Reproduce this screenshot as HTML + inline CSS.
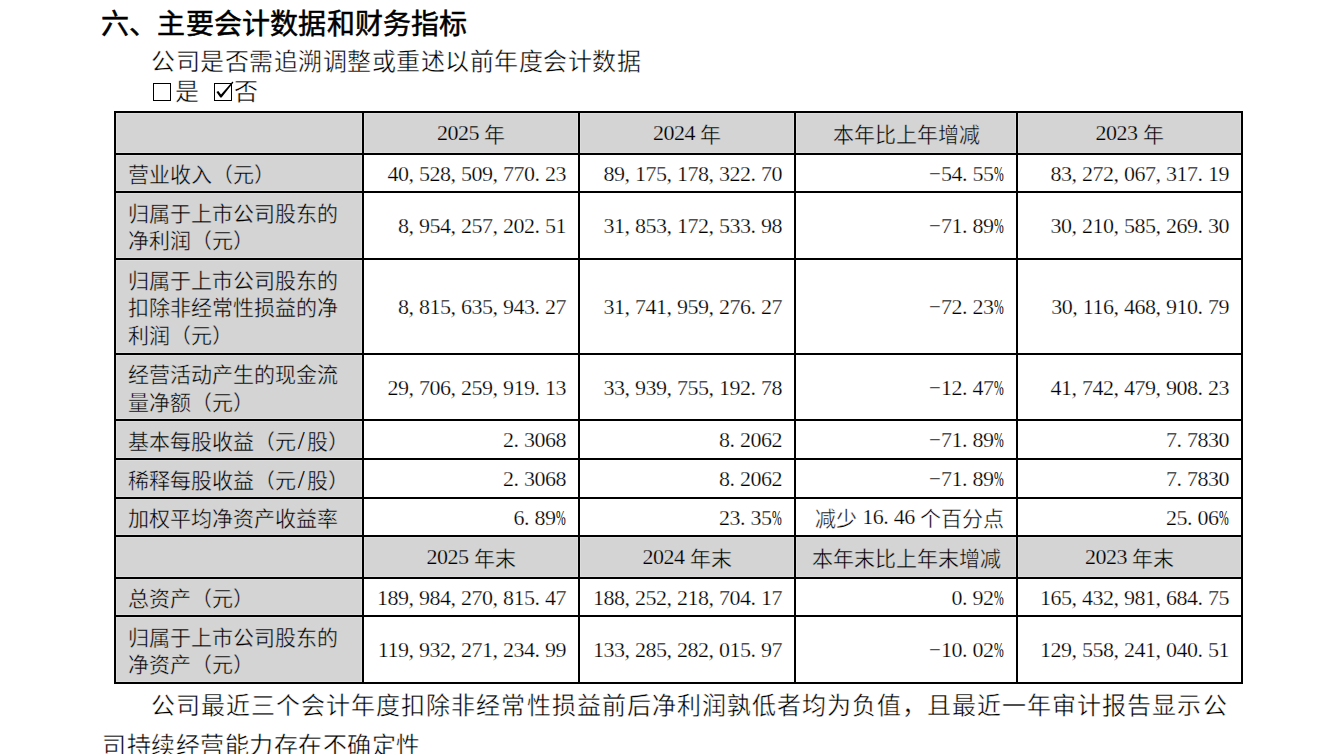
<!DOCTYPE html>
<html lang="zh-CN"><head><meta charset="utf-8"><title>主要会计数据和财务指标</title>
<style>
html,body{margin:0;padding:0;background:#fff;}
body{width:1330px;height:754px;overflow:hidden;position:relative;font-family:"Liberation Serif",serif;color:#000;-webkit-text-stroke:0.4px #fff;}
.t{position:absolute;white-space:nowrap;line-height:1;}
.c{position:absolute;box-sizing:border-box;display:flex;align-items:center;font-size:21px;line-height:27.5px;white-space:nowrap;padding-top:5px;}
.g{background:#d4d4d4;border:1px solid #dcdcdc;-webkit-text-stroke-color:#d4d4d4;}
.sl{text-align:center;font-size:25px;-webkit-text-stroke-width:0;}
.l{padding-left:11px;}
.r{justify-content:flex-end;padding-right:12px;}
.h{justify-content:center;}
.d{font-size:22px;letter-spacing:-0.5px;position:relative;top:-2px;-webkit-text-stroke-width:0.25px;}
i{font-style:normal;display:inline-block;width:10.5px;}
u{text-decoration:none;display:inline-block;width:10.5px;transform:scaleX(0.53);transform-origin:0 0;-webkit-text-stroke-width:0;}
s{text-decoration:none;display:inline-block;width:12.5px;margin-left:-2px;transform:scaleX(0.95);transform-origin:0 0;}
.ln{position:absolute;background:#000;}
.bx{position:absolute;width:18px;height:18px;box-sizing:border-box;border:1px solid #000;}
.j{text-align:justify;text-align-last:justify;}
</style></head><body>
<div class="t" style="left:101px;top:11px;font-size:28px;letter-spacing:0.2px;-webkit-text-stroke:0.5px #000;">六、主要会计数据和财务指标</div>
<div class="t" style="left:151px;top:50px;font-size:24px;letter-spacing:0.5px;">公司是否需追溯调整或重述以前年度会计数据</div>
<div class="bx" style="left:153px;top:83px;"></div>
<div class="t" style="left:175px;top:80px;font-size:24px;letter-spacing:0.5px;">是</div>
<div class="bx" style="left:214px;top:83px;"><svg width="22" height="22" viewBox="0 0 22 22" style="position:absolute;left:0;top:-3px;overflow:visible"><path d="M1.4 11.0 L3.3 9.9 L6.0 13.4 L17.5 0.6 L18.4 1.4 L6.6 16.6 L5.3 16.6 Z" fill="#000"/></svg></div>
<div class="t" style="left:234px;top:80px;font-size:24px;letter-spacing:0.5px;">否</div>
<div class="c g l" style="left:116px;top:113px;width:246px;height:40px"><div></div></div>
<div class="c g h" style="left:364px;top:113px;width:214px;height:40px"><div><span class="d">2025</span> 年</div></div>
<div class="c g h" style="left:580px;top:113px;width:214px;height:40px"><div><span class="d">2024</span> 年</div></div>
<div class="c g h" style="left:796px;top:113px;width:220px;height:40px"><div>本年比上年增减</div></div>
<div class="c g h" style="left:1018px;top:113px;width:223px;height:40px"><div><span class="d">2023</span> 年</div></div>
<div class="c g l" style="left:116px;top:155px;width:246px;height:36px"><div>营业收入（元）</div></div>
<div class="c r" style="left:364px;top:155px;width:214px;height:36px"><div class="d">40<i>,</i>528<i>,</i>509<i>,</i>770<i>.</i>23</div></div>
<div class="c r" style="left:580px;top:155px;width:214px;height:36px"><div class="d">89<i>,</i>175<i>,</i>178<i>,</i>322<i>.</i>70</div></div>
<div class="c r" style="left:796px;top:155px;width:220px;height:36px"><div class="d"><s>&#8722;</s>54<i>.</i>55<u>%</u></div></div>
<div class="c r" style="left:1018px;top:155px;width:223px;height:36px"><div class="d">83<i>,</i>272<i>,</i>067<i>,</i>317<i>.</i>19</div></div>
<div class="c g l" style="left:116px;top:193px;width:246px;height:65px"><div>归属于上市公司股东的<br>净利润（元）</div></div>
<div class="c r" style="left:364px;top:193px;width:214px;height:65px"><div class="d">8<i>,</i>954<i>,</i>257<i>,</i>202<i>.</i>51</div></div>
<div class="c r" style="left:580px;top:193px;width:214px;height:65px"><div class="d">31<i>,</i>853<i>,</i>172<i>,</i>533<i>.</i>98</div></div>
<div class="c r" style="left:796px;top:193px;width:220px;height:65px"><div class="d"><s>&#8722;</s>71<i>.</i>89<u>%</u></div></div>
<div class="c r" style="left:1018px;top:193px;width:223px;height:65px"><div class="d">30<i>,</i>210<i>,</i>585<i>,</i>269<i>.</i>30</div></div>
<div class="c g l" style="left:116px;top:260px;width:246px;height:93px"><div>归属于上市公司股东的<br>扣除非经常性损益的净<br>利润（元）</div></div>
<div class="c r" style="left:364px;top:260px;width:214px;height:93px"><div class="d">8<i>,</i>815<i>,</i>635<i>,</i>943<i>.</i>27</div></div>
<div class="c r" style="left:580px;top:260px;width:214px;height:93px"><div class="d">31<i>,</i>741<i>,</i>959<i>,</i>276<i>.</i>27</div></div>
<div class="c r" style="left:796px;top:260px;width:220px;height:93px"><div class="d"><s>&#8722;</s>72<i>.</i>23<u>%</u></div></div>
<div class="c r" style="left:1018px;top:260px;width:223px;height:93px"><div class="d">30<i>,</i>116<i>,</i>468<i>,</i>910<i>.</i>79</div></div>
<div class="c g l" style="left:116px;top:355px;width:246px;height:64px"><div>经营活动产生的现金流<br>量净额（元）</div></div>
<div class="c r" style="left:364px;top:355px;width:214px;height:64px"><div class="d">29<i>,</i>706<i>,</i>259<i>,</i>919<i>.</i>13</div></div>
<div class="c r" style="left:580px;top:355px;width:214px;height:64px"><div class="d">33<i>,</i>939<i>,</i>755<i>,</i>192<i>.</i>78</div></div>
<div class="c r" style="left:796px;top:355px;width:220px;height:64px"><div class="d"><s>&#8722;</s>12<i>.</i>47<u>%</u></div></div>
<div class="c r" style="left:1018px;top:355px;width:223px;height:64px"><div class="d">41<i>,</i>742<i>,</i>479<i>,</i>908<i>.</i>23</div></div>
<div class="c g l" style="left:116px;top:421px;width:246px;height:37px"><div>基本每股收益（元<i class="sl">/</i>股）</div></div>
<div class="c r" style="left:364px;top:421px;width:214px;height:37px"><div class="d">2<i>.</i>3068</div></div>
<div class="c r" style="left:580px;top:421px;width:214px;height:37px"><div class="d">8<i>.</i>2062</div></div>
<div class="c r" style="left:796px;top:421px;width:220px;height:37px"><div class="d"><s>&#8722;</s>71<i>.</i>89<u>%</u></div></div>
<div class="c r" style="left:1018px;top:421px;width:223px;height:37px"><div class="d">7<i>.</i>7830</div></div>
<div class="c g l" style="left:116px;top:460px;width:246px;height:37px"><div>稀释每股收益（元<i class="sl">/</i>股）</div></div>
<div class="c r" style="left:364px;top:460px;width:214px;height:37px"><div class="d">2<i>.</i>3068</div></div>
<div class="c r" style="left:580px;top:460px;width:214px;height:37px"><div class="d">8<i>.</i>2062</div></div>
<div class="c r" style="left:796px;top:460px;width:220px;height:37px"><div class="d"><s>&#8722;</s>71<i>.</i>89<u>%</u></div></div>
<div class="c r" style="left:1018px;top:460px;width:223px;height:37px"><div class="d">7<i>.</i>7830</div></div>
<div class="c g l" style="left:116px;top:499px;width:246px;height:36px"><div>加权平均净资产收益率</div></div>
<div class="c r" style="left:364px;top:499px;width:214px;height:36px"><div class="d">6<i>.</i>89<u>%</u></div></div>
<div class="c r" style="left:580px;top:499px;width:214px;height:36px"><div class="d">23<i>.</i>35<u>%</u></div></div>
<div class="c r" style="left:796px;top:499px;width:220px;height:36px"><div>减少 <span class="d">16<i>.</i>46</span> 个百分点</div></div>
<div class="c r" style="left:1018px;top:499px;width:223px;height:36px"><div class="d">25<i>.</i>06<u>%</u></div></div>
<div class="c g l" style="left:116px;top:537px;width:246px;height:40px"><div></div></div>
<div class="c g h" style="left:364px;top:537px;width:214px;height:40px"><div><span class="d">2025</span> 年末</div></div>
<div class="c g h" style="left:580px;top:537px;width:214px;height:40px"><div><span class="d">2024</span> 年末</div></div>
<div class="c g h" style="left:796px;top:537px;width:220px;height:40px"><div>本年末比上年末增减</div></div>
<div class="c g h" style="left:1018px;top:537px;width:223px;height:40px"><div><span class="d">2023</span> 年末</div></div>
<div class="c g l" style="left:116px;top:579px;width:246px;height:36px"><div>总资产（元）</div></div>
<div class="c r" style="left:364px;top:579px;width:214px;height:36px"><div class="d">189<i>,</i>984<i>,</i>270<i>,</i>815<i>.</i>47</div></div>
<div class="c r" style="left:580px;top:579px;width:214px;height:36px"><div class="d">188<i>,</i>252<i>,</i>218<i>,</i>704<i>.</i>17</div></div>
<div class="c r" style="left:796px;top:579px;width:220px;height:36px"><div class="d">0<i>.</i>92<u>%</u></div></div>
<div class="c r" style="left:1018px;top:579px;width:223px;height:36px"><div class="d">165<i>,</i>432<i>,</i>981<i>,</i>684<i>.</i>75</div></div>
<div class="c g l" style="left:116px;top:617px;width:246px;height:65px"><div>归属于上市公司股东的<br>净资产（元）</div></div>
<div class="c r" style="left:364px;top:617px;width:214px;height:65px"><div class="d">119<i>,</i>932<i>,</i>271<i>,</i>234<i>.</i>99</div></div>
<div class="c r" style="left:580px;top:617px;width:214px;height:65px"><div class="d">133<i>,</i>285<i>,</i>282<i>,</i>015<i>.</i>97</div></div>
<div class="c r" style="left:796px;top:617px;width:220px;height:65px"><div class="d"><s>&#8722;</s>10<i>.</i>02<u>%</u></div></div>
<div class="c r" style="left:1018px;top:617px;width:223px;height:65px"><div class="d">129<i>,</i>558<i>,</i>241<i>,</i>040<i>.</i>51</div></div>
<div class="ln" style="left:114px;top:111px;width:2px;height:573px"></div>
<div class="ln" style="left:362px;top:111px;width:2px;height:573px"></div>
<div class="ln" style="left:578px;top:111px;width:2px;height:573px"></div>
<div class="ln" style="left:794px;top:111px;width:2px;height:573px"></div>
<div class="ln" style="left:1016px;top:111px;width:2px;height:573px"></div>
<div class="ln" style="left:1241px;top:111px;width:2px;height:573px"></div>
<div class="ln" style="left:114px;top:111px;width:1129px;height:2px"></div>
<div class="ln" style="left:114px;top:153px;width:1129px;height:2px"></div>
<div class="ln" style="left:114px;top:191px;width:1129px;height:2px"></div>
<div class="ln" style="left:114px;top:258px;width:1129px;height:2px"></div>
<div class="ln" style="left:114px;top:353px;width:1129px;height:2px"></div>
<div class="ln" style="left:114px;top:419px;width:1129px;height:2px"></div>
<div class="ln" style="left:114px;top:458px;width:1129px;height:2px"></div>
<div class="ln" style="left:114px;top:497px;width:1129px;height:2px"></div>
<div class="ln" style="left:114px;top:535px;width:1129px;height:2px"></div>
<div class="ln" style="left:114px;top:577px;width:1129px;height:2px"></div>
<div class="ln" style="left:114px;top:615px;width:1129px;height:2px"></div>
<div class="ln" style="left:114px;top:682px;width:1129px;height:2px"></div>
<div class="t j" style="left:151px;top:694px;width:1076px;font-size:24px;letter-spacing:0.5px;">公司最近三个会计年度扣除非经常性损益前后净利润孰低者均为负值，且最近一年审计报告显示公</div>
<div class="t" style="left:102px;top:734px;font-size:24px;letter-spacing:0.5px;">司持续经营能力存在不确定性</div>
</body></html>
